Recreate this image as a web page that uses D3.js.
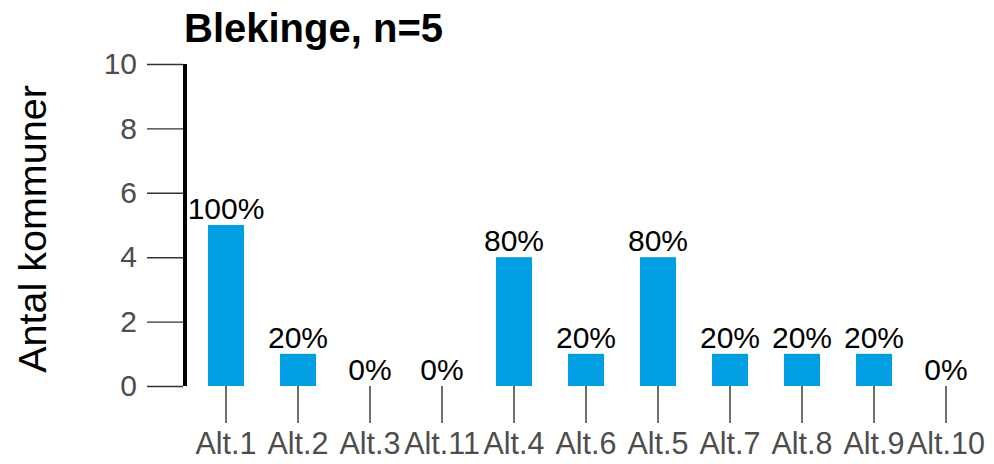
<!DOCTYPE html>
<html>
<head>
<meta charset="utf-8">
<script src="https://cdn.jsdelivr.net/npm/d3@7"></script>
<style>
  html, body { margin: 0; padding: 0; background: #fff; }
  svg { display: block; font-family: "Liberation Sans", Arial, sans-serif; }
</style>
</head>
<body>
<svg id="chart" width="994" height="464"></svg>
<script>
const categories = ["Alt.1","Alt.2","Alt.3","Alt.11","Alt.4","Alt.6","Alt.5","Alt.7","Alt.8","Alt.9","Alt.10"];
const counts = [5, 1, 0, 0, 4, 1, 4, 1, 1, 1, 0];
const percentLabels = ["100%","20%","0%","0%","80%","20%","80%","20%","20%","20%","0%"];
const yTicks = [0, 2, 4, 6, 8, 10];
const titleText = "Blekinge, n=5";
const yTitle = "Antal kommuner";

const svg = d3.select("#chart");
const x = d3.scaleBand().domain(categories).range([190, 982]).paddingInner(0.5).paddingOuter(0.25);
const y = d3.scaleLinear().domain([0, 10]).range([386, 64]);

// bars
svg.append("g").selectAll("rect").data(categories).join("rect")
  .attr("x", d => x(d))
  .attr("width", x.bandwidth())
  .attr("y", (d, i) => y(counts[i]))
  .attr("height", (d, i) => y(0) - y(counts[i]))
  .attr("fill", "#009FE3");

// value labels
svg.append("g").selectAll("text").data(categories).join("text")
  .attr("x", d => x(d) + x.bandwidth() / 2)
  .attr("y", (d, i) => y(counts[i]) - 6)
  .attr("text-anchor", "middle")
  .attr("font-size", 30)
  .attr("fill", "#000")
  .text((d, i) => percentLabels[i]);

// y axis
const gy = svg.append("g").attr("transform", "translate(183,0)")
  .call(d3.axisLeft(y).tickValues(yTicks).tickSize(36).tickPadding(10).tickFormat(d3.format("d")));
gy.select(".domain").remove();
gy.selectAll(".tick line").attr("stroke", "#333").attr("stroke-width", 1.4);
gy.selectAll(".tick text").attr("font-size", 30).attr("fill", "#4D4D4D").attr("font-family", "Liberation Sans, Arial, sans-serif");
svg.append("line")
  .attr("x1", 185).attr("x2", 185)
  .attr("y1", y(0)).attr("y2", y(10))
  .attr("stroke", "#000").attr("stroke-width", 4);

// x axis
const gx = svg.append("g").attr("transform", `translate(0,${y(0)})`)
  .call(d3.axisBottom(x).tickSize(37).tickPadding(9));
gx.select(".domain").remove();
gx.selectAll(".tick line").attr("stroke", "#333").attr("stroke-width", 1.4);
gx.selectAll(".tick text").attr("font-size", 30.5).attr("fill", "#4D4D4D").attr("font-family", "Liberation Sans, Arial, sans-serif");

// title
svg.append("text")
  .attr("x", 184).attr("y", 42)
  .attr("font-size", 40).attr("font-weight", "bold").attr("fill", "#000")
  .text(titleText);

// y title
svg.append("text")
  .attr("transform", "translate(46,229) rotate(-90)")
  .attr("text-anchor", "middle")
  .attr("font-size", 39.5).attr("fill", "#000")
  .text(yTitle);
</script>
</body>
</html>
